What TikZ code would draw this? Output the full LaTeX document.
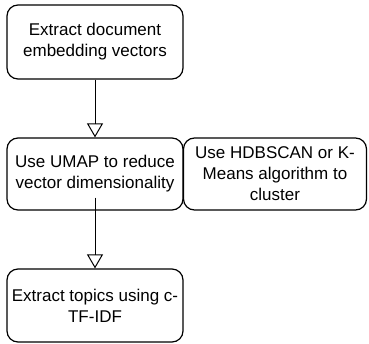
\documentclass[tikz,border=0pt]{standalone}
\usepackage{fontspec}
\setmainfont{Liberation Sans}
\usetikzlibrary{arrows.meta}
\begin{document}
\begin{tikzpicture}[x=1pt, y=-1pt,
	stepbox/.style={draw, rounded corners=11pt, line width=1.2pt, align=center,
		inner sep=0pt, font=\fontsize{17}{21}\selectfont},
	flow/.style={line width=0.9pt, -{Triangle[open, length=14pt, width=16pt, line width=1pt]}}]
	\useasboundingbox (0,0) rectangle (369,343);

	\node[stepbox, minimum width=176pt, minimum height=74pt] (embed) at (95,42) {Extract document\\embedding vectors};
	\node[stepbox, minimum width=176pt, minimum height=72pt] (umap) at (95,174) {Use UMAP to reduce\\vector dimensionality};
	\node[stepbox, minimum width=183pt, minimum height=72pt] (cluster) at (275,174) {Use HDBSCAN or K-\\Means algorithm to\\cluster};
	\node[stepbox, minimum width=176pt, minimum height=73pt] (topics) at (95,305.5) {Extract topics using c-\\TF-IDF};

	\coordinate (umapout) at ([yshift=13pt]umap.south);

	\draw[flow] (embed.south) -- (umap.north);
	\draw[flow] (umapout) -- (topics.north);
\end{tikzpicture}
\end{document}
